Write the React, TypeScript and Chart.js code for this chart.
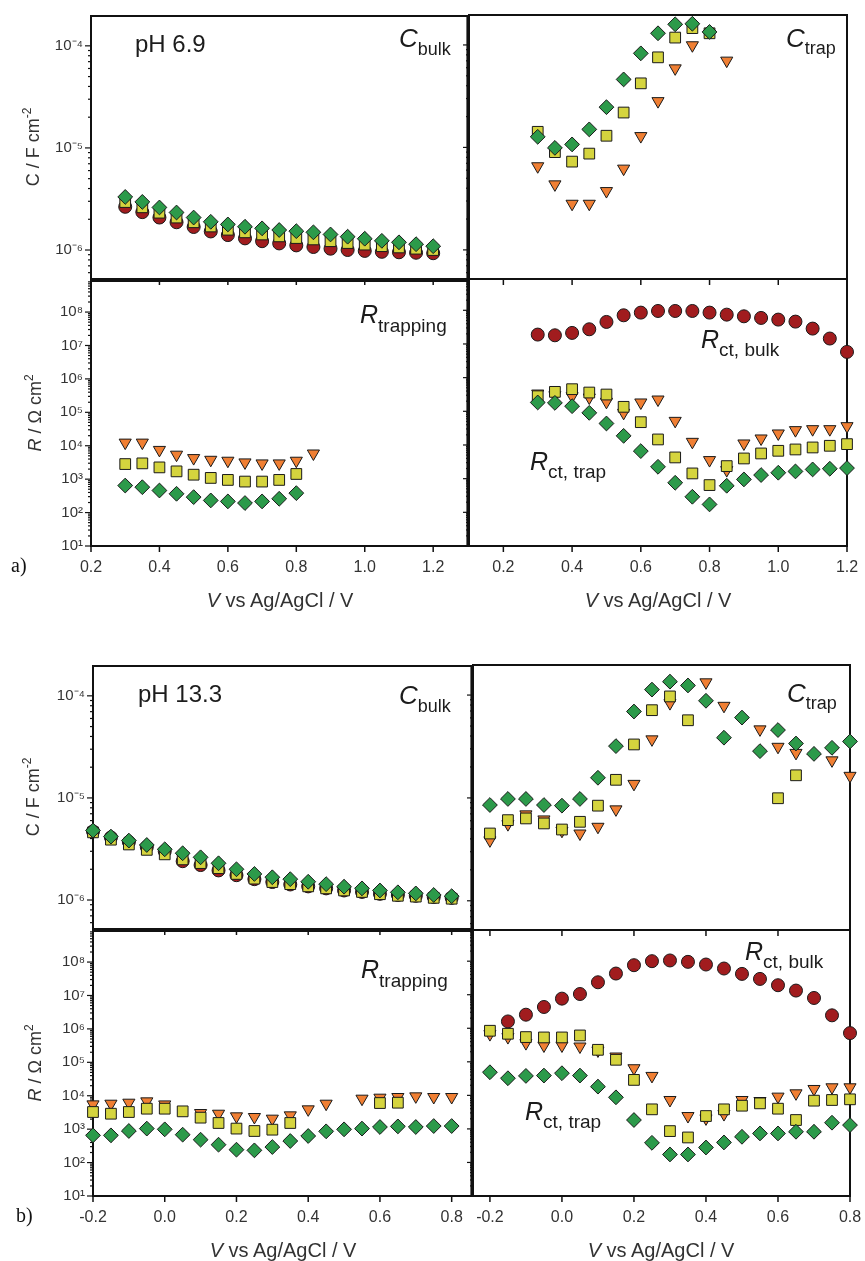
import React, { useEffect, useRef } from 'react';
import { Chart, registerables } from 'chart.js';

Chart.register(...registerables);

// ---------- data ----------
const V_A = [0.3, 0.35, 0.4, 0.45, 0.5, 0.55, 0.6, 0.65, 0.7, 0.75, 0.8, 0.85, 0.9, 0.95, 1.0, 1.05, 1.1, 1.15, 1.2];
const V_B = [-0.2, -0.15, -0.1, -0.05, 0, 0.05, 0.1, 0.15, 0.2, 0.25, 0.3, 0.35, 0.4, 0.45, 0.5, 0.55, 0.6, 0.65, 0.7, 0.75, 0.8];

const X_TICKS_A = [0.2, 0.4, 0.6, 0.8, 1.0, 1.2];
const X_TICKS_B = [-0.2, 0, 0.2, 0.4, 0.6, 0.8];

// (a) pH 6.9 — C bulk
const A_CBULK_CIRCLE = [2.65e-6, 2.35e-6, 2.08e-6, 1.87e-6, 1.68e-6, 1.52e-6, 1.4e-6, 1.3e-6, 1.22e-6, 1.16e-6, 1.11e-6, 1.07e-6, 1.03e-6, 1.0e-6, 9.8e-7, 9.6e-7, 9.5e-7, 9.4e-7, 9.3e-7];
const A_CBULK_SQUARE = [2.95e-6, 2.62e-6, 2.32e-6, 2.08e-6, 1.87e-6, 1.7e-6, 1.58e-6, 1.49e-6, 1.42e-6, 1.36e-6, 1.31e-6, 1.27e-6, 1.22e-6, 1.17e-6, 1.13e-6, 1.09e-6, 1.06e-6, 1.03e-6, 1.0e-6];
const A_CBULK_DIAMOND = [3.31e-6, 2.96e-6, 2.61e-6, 2.33e-6, 2.08e-6, 1.89e-6, 1.78e-6, 1.69e-6, 1.63e-6, 1.57e-6, 1.53e-6, 1.49e-6, 1.42e-6, 1.35e-6, 1.29e-6, 1.23e-6, 1.19e-6, 1.14e-6, 1.09e-6];
// (a) C trap
const A_CTRAP_TRIANGLE = [6.55e-6, 4.36e-6, 2.82e-6, 2.82e-6, 3.75e-6, 6.21e-6, 1.29e-5, 2.83e-5, 5.91e-5, 9.93e-5, null, 7.03e-5, null, null, null, null, null, null, null];
const A_CTRAP_SQUARE = [1.42e-5, 9.0e-6, 7.27e-6, 8.7e-6, 1.3e-5, 2.19e-5, 4.22e-5, 7.57e-5, 1.18e-4, 1.46e-4, 1.3e-4, null, null, null, null, null, null, null, null];
const A_CTRAP_DIAMOND = [1.27e-5, 9.9e-6, 1.07e-5, 1.5e-5, 2.47e-5, 4.61e-5, 8.28e-5, 1.3e-4, 1.59e-4, 1.61e-4, 1.34e-4, null, null, null, null, null, null, null, null];
// (a) R trapping
const A_RTRAP_TRIANGLE = [1.24e4, 1.24e4, 7.5e3, 5.4e3, 4.27e3, 3.8e3, 3.56e3, 3.17e3, 2.96e3, 2.96e3, 3.56e3, 5.86e3, null, null, null, null, null, null, null];
const A_RTRAP_SQUARE = [2.83e3, 2.97e3, 2.25e3, 1.71e3, 1.36e3, 1.09e3, 949, 847, 847, 949, 1.43e3, null, null, null, null, null, null, null, null];
const A_RTRAP_DIAMOND = [644, 575, 458, 365, 290, 231, 216, 193, 216, 259, 382, null, null, null, null, null, null, null, null];
// (a) R ct
const A_RCT_CIRCLE = [1.9e7, 1.81e7, 2.13e7, 2.73e7, 4.51e7, 7.11e7, 8.53e7, 9.55e7, 9.55e7, 9.55e7, 8.53e7, 7.43e7, 6.63e7, 5.93e7, 5.29e7, 4.61e7, 2.86e7, 1.45e7, 5.81e6];
const A_RCT_TRIANGLE = [3.37e5, 3.01e5, 2.81e5, 2.57e5, 1.91e5, 9.0e4, 1.83e5, 2.24e5, 5.21e4, 1.24e4, 3.56e3, 1.8e3, 1.11e4, 1.56e4, 2.2e4, 2.76e4, 2.95e4, 2.95e4, 3.62e4];
const A_RCT_SQUARE = [2.81e5, 3.78e5, 4.54e5, 3.61e5, 3.15e5, 1.36e5, 4.76e4, 1.46e4, 4.27e3, 1.43e3, 644, 2.36e3, 3.98e3, 5.6e3, 6.72e3, 7.36e3, 8.44e3, 9.46e3, 1.06e4];
const A_RCT_DIAMOND = [1.83e5, 1.78e5, 1.42e5, 9.0e4, 4.35e4, 1.87e4, 6.58e3, 2.25e3, 755, 290, 172, 615, 949, 1.28e3, 1.5e3, 1.64e3, 1.88e3, 1.97e3, 2.06e3];

// (b) pH 13.3 — C bulk
const B_CBULK_CIRCLE = [4.7e-6, 4.1e-6, 3.7e-6, 3.3e-6, 3.0e-6, 2.4e-6, 2.2e-6, 1.95e-6, 1.75e-6, 1.6e-6, 1.5e-6, 1.42e-6, 1.36e-6, 1.3e-6, 1.24e-6, 1.2e-6, 1.15e-6, 1.12e-6, 1.1e-6, 1.07e-6, 1.05e-6];
const B_CBULK_SQUARE = [4.6e-6, 3.9e-6, 3.5e-6, 3.1e-6, 2.8e-6, 2.5e-6, 2.3e-6, 2.05e-6, 1.8e-6, 1.62e-6, 1.5e-6, 1.43e-6, 1.36e-6, 1.3e-6, 1.24e-6, 1.2e-6, 1.14e-6, 1.1e-6, 1.08e-6, 1.05e-6, 1.03e-6];
const B_CBULK_DIAMOND = [4.79e-6, 4.18e-6, 3.82e-6, 3.46e-6, 3.14e-6, 2.87e-6, 2.62e-6, 2.29e-6, 2.0e-6, 1.8e-6, 1.67e-6, 1.6e-6, 1.51e-6, 1.43e-6, 1.35e-6, 1.3e-6, 1.24e-6, 1.19e-6, 1.16e-6, 1.12e-6, 1.09e-6];
// (b) C trap
const B_CTRAP_TRIANGLE = [3.87e-6, 5.56e-6, 6.92e-6, 6.18e-6, 4.79e-6, 4.51e-6, 5.24e-6, 7.74e-6, 1.37e-5, 3.71e-5, 8.35e-5, null, 1.33e-4, 7.86e-5, null, 4.64e-5, 3.14e-5, 2.74e-5, null, 2.32e-5, 1.64e-5];
const B_CTRAP_SQUARE = [4.51e-6, 6.08e-6, 6.32e-6, 5.65e-6, 4.93e-6, 5.86e-6, 8.41e-6, 1.5e-5, 3.31e-5, 7.13e-5, 9.7e-5, 5.69e-5, null, null, null, null, 9.93e-6, 1.66e-5, null, null, null];
const B_CTRAP_DIAMOND = [8.53e-6, 9.77e-6, 9.77e-6, 8.53e-6, 8.41e-6, 9.77e-6, 1.57e-5, 3.19e-5, 6.92e-5, 1.13e-4, 1.35e-4, 1.24e-4, 8.8e-5, 3.85e-5, 6.04e-5, 2.85e-5, 4.57e-5, 3.38e-5, 2.68e-5, 3.07e-5, 3.54e-5];
// (b) R trapping
const B_RTRAP_TRIANGLE = [5.52e3, 5.78e3, 6.19e3, 6.79e3, 5.5e3, null, 3.04e3, 2.9e3, 2.42e3, 2.31e3, 2.06e3, 2.59e3, 3.92e3, 5.78e3, null, 8.17e3, 8.75e3, 9.16e3, 9.59e3, 9.16e3, 9.16e3];
const B_RTRAP_SQUARE = [3.26e3, 2.9e3, 3.26e3, 4.1e3, 4.1e3, 3.41e3, 2.21e3, 1.53e3, 1.04e3, 881, 966, 1.53e3, null, null, null, null, 6.05e3, 6.19e3, null, null, null];
const B_RTRAP_DIAMOND = [653, 653, 881, 1.04e3, 988, 684, 484, 343, 243, 232, 292, 442, 624, 861, 988, 1.04e3, 1.16e3, 1.21e3, 1.16e3, 1.24e3, 1.24e3];
// (b) R ct
const B_RCT_CIRCLE = [null, 1.6e6, 2.54e6, 4.31e6, 7.65e6, 1.05e7, 2.35e7, 4.28e7, 7.59e7, 1.0e8, 1.05e8, 9.55e7, 7.95e7, 6.04e7, 4.18e7, 2.96e7, 1.92e7, 1.33e7, 8.0e6, 2.43e6, 7.18e5];
const B_RCT_TRIANGLE = [6.7e5, 5.46e5, 3.61e5, 3.07e5, 3.07e5, 2.86e5, 2.18e5, 1.44e5, 6.44e4, 3.8e4, 7.28e3, 2.42e3, 2.06e3, 2.77e3, 7.28e3, 6.79e3, 9.16e3, 1.15e4, 1.55e4, 1.74e4, 1.74e4];
const B_RCT_SQUARE = [8.43e5, 6.86e5, 5.46e5, 5.33e5, 5.33e5, 6.11e5, 2.28e5, 1.15e5, 2.89e4, 3.83e3, 861, 556, 2.42e3, 3.83e3, 4.92e3, 5.78e3, 4.01e3, 1.84e3, 6.95e3, 7.28e3, 7.62e3];
const B_RCT_DIAMOND = [4.89e4, 3.24e4, 3.8e4, 3.89e4, 4.57e4, 3.89e4, 1.82e4, 8.75e3, 1.84e3, 385, 173, 173, 279, 395, 582, 733, 733, 822, 822, 1.53e3, 1.3e3];

// ---------- styling ----------
const SANS = '"Liberation Sans", Arial, Helvetica, sans-serif';
const SERIF = '"Liberation Serif", "Times New Roman", serif';
const TEXT = '#1c1c1c';
const TICK_TEXT = '#333333';

type MarkKey = 'circle' | 'square' | 'triangle' | 'diamond';
const MARKS: Record<MarkKey, { style: string; radius: number; rotation: number; color: string }> = {
  circle: { style: 'circle', radius: 6.5, rotation: 0, color: '#A11C1E' },
  square: { style: 'rect', radius: 7.6, rotation: 0, color: '#D5D43E' },
  triangle: { style: 'triangle', radius: 7, rotation: 180, color: '#F07F33' },
  diamond: { style: 'rectRot', radius: 7.4, rotation: 0, color: '#2C9A4A' },
};
// draw order: later in this list = further back
const DRAW_ORDER: MarkKey[] = ['diamond', 'square', 'triangle', 'circle'];

type Series = { mark: MarkKey; xs: number[]; ys: (number | null)[] };
type Box = { l: number; t: number; w: number; h: number };
type Area = { l: number; t: number; r: number; b: number };
type PanelSpec = {
  box: Box;
  area: Area;
  xRange: [number, number];
  xTicks: number[];
  xLabels: boolean;
  yRange: [number, number];
  yLabels: boolean;
  series: Series[];
};

const SUP: Record<string, string> = { '-': '⁻', '0': '⁰', '1': '¹', '2': '²', '3': '³', '4': '⁴', '5': '⁵', '6': '⁶', '7': '⁷', '8': '⁸', '9': '⁹' };
const supStr = (n: number) => String(n).split('').map((c) => SUP[c]).join('');
const isDecade = (v: number) => {
  const e = Math.log10(v);
  return Math.abs(e - Math.round(e)) < 1e-6;
};

function logTicks(min: number, max: number) {
  const out: { value: number; major: boolean }[] = [];
  const e0 = Math.floor(Math.log10(min));
  const e1 = Math.ceil(Math.log10(max));
  for (let e = e0; e <= e1; e++) {
    for (let m = 1; m <= 9; m++) {
      const v = Number((m * Math.pow(10, e)).toPrecision(6));
      if (v >= min * 0.9999 && v <= max * 1.0001) out.push({ value: v, major: m === 1 });
    }
  }
  return out;
}

const framePlugin = {
  id: 'panelFrame',
  beforeDatasetsDraw(chart: any) {
    const { ctx, chartArea: a, scales } = chart;
    const xs = scales.x;
    const ys = scales.y;
    ctx.save();
    ctx.strokeStyle = '#111';
    ctx.lineWidth = 2;
    ctx.strokeRect(a.left, a.top, a.right - a.left, a.bottom - a.top);
    ctx.lineWidth = 1.2;
    for (const t of ys.ticks) {
      const py = ys.getPixelForValue(t.value);
      if (py < a.top - 0.5 || py > a.bottom + 0.5) continue;
      const len = isDecade(t.value) ? 6 : 3;
      ctx.beginPath();
      ctx.moveTo(a.left - len, py);
      ctx.lineTo(a.left, py);
      ctx.stroke();
    }
    ctx.lineWidth = 1.5;
    for (const t of xs.ticks) {
      const px = xs.getPixelForValue(t.value);
      ctx.beginPath();
      ctx.moveTo(px, a.bottom);
      ctx.lineTo(px, a.bottom + 6);
      ctx.stroke();
    }
    ctx.restore();
  },
};

function Panel({ spec }: { spec: PanelSpec }) {
  const ref = useRef<HTMLCanvasElement>(null);
  useEffect(() => {
    const cv = ref.current;
    if (!cv) return;
    const { box, area } = spec;
    const yW = area.l - box.l;
    const xH = box.t + box.h - area.b;
    const padTop = area.t - box.t;
    const padRight = box.l + box.w - area.r;
    const sorted = [...spec.series].sort((p, q) => DRAW_ORDER.indexOf(p.mark) - DRAW_ORDER.indexOf(q.mark));
    const datasets = sorted.map((s) => {
      const m = MARKS[s.mark];
      const data = s.xs
        .map((x, i) => ({ x, y: s.ys[i] }))
        .filter((p) => p.y !== null && p.y !== undefined);
      return {
        data,
        showLine: false,
        clip: false as any,
        pointStyle: m.style as any,
        pointRadius: m.radius,
        pointHoverRadius: m.radius,
        pointRotation: m.rotation,
        backgroundColor: m.color,
        pointBackgroundColor: m.color,
        borderColor: '#1a1a1a',
        pointBorderColor: '#1a1a1a',
        pointBorderWidth: 1,
      };
    });
    const chart = new Chart(cv, {
      type: 'scatter',
      data: { datasets },
      options: {
        responsive: false,
        animation: false,
        devicePixelRatio: 1,
        layout: { padding: { left: 0, top: padTop, right: padRight, bottom: 0 } },
        plugins: { legend: { display: false }, tooltip: { enabled: false } },
        scales: {
          x: {
            type: 'linear',
            position: 'bottom',
            min: spec.xRange[0],
            max: spec.xRange[1],
            afterBuildTicks: (s: any) => {
              s.ticks = spec.xTicks.map((v) => ({ value: v }));
            },
            afterFit: (s: any) => {
              s.height = xH;
            },
            grid: { display: false, drawTicks: true, tickLength: 8 },
            border: { display: false },
            ticks: {
              display: spec.xLabels,
              autoSkip: false,
              maxRotation: 0,
              minRotation: 0,
              padding: 4,
              color: TICK_TEXT,
              font: { family: SANS, size: 16 },
              callback: (v: any) => Number(v).toFixed(1),
            },
          },
          y: {
            type: 'logarithmic',
            position: 'left',
            min: spec.yRange[0],
            max: spec.yRange[1],
            afterBuildTicks: (s: any) => {
              s.ticks = logTicks(spec.yRange[0], spec.yRange[1]);
            },
            afterFit: (s: any) => {
              s.width = yW;
            },
            grid: { display: false, drawTicks: true, tickLength: 6 },
            border: { display: false },
            ticks: {
              display: spec.yLabels,
              autoSkip: false,
              padding: 2,
              color: TICK_TEXT,
              font: { family: SANS, size: 15 },
              callback: (v: any) => {
                const n = Number(v);
                if (!isDecade(n)) return '';
                return '10' + supStr(Math.round(Math.log10(n)));
              },
            },
          },
        },
      } as any,
      plugins: [framePlugin],
    });
    return () => chart.destroy();
  }, [spec]);
  return (
    <canvas
      ref={ref}
      width={spec.box.w}
      height={spec.box.h}
      style={{ position: 'absolute', left: spec.box.l, top: spec.box.t, width: spec.box.w, height: spec.box.h }}
    />
  );
}

const C_RANGE: [number, number] = [5.2e-7, 1.96e-4];
const R_RANGE: [number, number] = [10, 8.5e8];

const ser = (mark: MarkKey, xs: number[], ys: (number | null)[]): Series => ({ mark, xs, ys });

const PANELS: PanelSpec[] = [
  // (a) top-left: C bulk
  {
    box: { l: 0, t: 5, w: 476, h: 285 },
    area: { l: 91, t: 15, r: 469, b: 279 },
    xRange: [0.2, 1.3], xTicks: X_TICKS_A, xLabels: false,
    yRange: C_RANGE, yLabels: true,
    series: [ser('circle', V_A, A_CBULK_CIRCLE), ser('square', V_A, A_CBULK_SQUARE), ser('diamond', V_A, A_CBULK_DIAMOND)],
  },
  // (a) top-right: C trap
  {
    box: { l: 455, t: 5, w: 430, h: 285 },
    area: { l: 469, t: 15, r: 847, b: 279 },
    xRange: [0.1, 1.2], xTicks: X_TICKS_A, xLabels: false,
    yRange: C_RANGE, yLabels: false,
    series: [ser('triangle', V_A, A_CTRAP_TRIANGLE), ser('square', V_A, A_CTRAP_SQUARE), ser('diamond', V_A, A_CTRAP_DIAMOND)],
  },
  // (a) bottom-left: R trapping
  {
    box: { l: 0, t: 270, w: 476, h: 316 },
    area: { l: 91, t: 279, r: 469, b: 546 },
    xRange: [0.2, 1.3], xTicks: X_TICKS_A, xLabels: true,
    yRange: R_RANGE, yLabels: true,
    series: [ser('triangle', V_A, A_RTRAP_TRIANGLE), ser('square', V_A, A_RTRAP_SQUARE), ser('diamond', V_A, A_RTRAP_DIAMOND)],
  },
  // (a) bottom-right: R ct
  {
    box: { l: 455, t: 270, w: 430, h: 316 },
    area: { l: 469, t: 279, r: 847, b: 546 },
    xRange: [0.1, 1.2], xTicks: X_TICKS_A, xLabels: true,
    yRange: R_RANGE, yLabels: false,
    series: [ser('circle', V_A, A_RCT_CIRCLE), ser('triangle', V_A, A_RCT_TRIANGLE), ser('square', V_A, A_RCT_SQUARE), ser('diamond', V_A, A_RCT_DIAMOND)],
  },
  // (b) top-left: C bulk
  {
    box: { l: 0, t: 655, w: 480, h: 285 },
    area: { l: 93, t: 665, r: 473, b: 930 },
    xRange: [-0.2, 0.855], xTicks: X_TICKS_B, xLabels: false,
    yRange: C_RANGE, yLabels: true,
    series: [ser('circle', V_B, B_CBULK_CIRCLE), ser('square', V_B, B_CBULK_SQUARE), ser('diamond', V_B, B_CBULK_DIAMOND)],
  },
  // (b) top-right: C trap
  {
    box: { l: 459, t: 655, w: 426, h: 285 },
    area: { l: 473, t: 665, r: 850, b: 930 },
    xRange: [-0.247, 0.8], xTicks: X_TICKS_B, xLabels: false,
    yRange: C_RANGE, yLabels: false,
    series: [ser('triangle', V_B, B_CTRAP_TRIANGLE), ser('square', V_B, B_CTRAP_SQUARE), ser('diamond', V_B, B_CTRAP_DIAMOND)],
  },
  // (b) bottom-left: R trapping
  {
    box: { l: 0, t: 920, w: 480, h: 316 },
    area: { l: 93, t: 930, r: 473, b: 1196 },
    xRange: [-0.2, 0.855], xTicks: X_TICKS_B, xLabels: true,
    yRange: R_RANGE, yLabels: true,
    series: [ser('triangle', V_B, B_RTRAP_TRIANGLE), ser('square', V_B, B_RTRAP_SQUARE), ser('diamond', V_B, B_RTRAP_DIAMOND)],
  },
  // (b) bottom-right: R ct
  {
    box: { l: 459, t: 920, w: 426, h: 316 },
    area: { l: 473, t: 930, r: 850, b: 1196 },
    xRange: [-0.247, 0.8], xTicks: X_TICKS_B, xLabels: true,
    yRange: R_RANGE, yLabels: false,
    series: [ser('circle', V_B, B_RCT_CIRCLE), ser('triangle', V_B, B_RCT_TRIANGLE), ser('square', V_B, B_RCT_SQUARE), ser('diamond', V_B, B_RCT_DIAMOND)],
  },
];

// ---------- text overlays ----------
const abs = (left: number, top: number, extra: React.CSSProperties = {}): React.CSSProperties => ({
  position: 'absolute',
  left,
  top,
  lineHeight: 1,
  whiteSpace: 'nowrap',
  fontFamily: SANS,
  color: TEXT,
  ...extra,
});

function Sym({ left, top, main, sub, mainSize, subSize, drop, italic = true }: { left: number; top: number; main: string; sub: string; mainSize: number; subSize: number; drop: number; italic?: boolean }) {
  return (
    <div style={abs(left, top, { fontSize: mainSize })}>
      <span style={{ fontStyle: italic ? 'italic' : 'normal' }}>{main}</span>
      <span style={{ fontSize: subSize, verticalAlign: -drop }}>{sub}</span>
    </div>
  );
}

function YTitle({ cx, cy, kind }: { cx: number; cy: number; kind: 'C' | 'R' }) {
  return (
    <div
      style={abs(cx, cy, {
        fontSize: 18,
        color: TICK_TEXT,
        transform: 'translate(-50%, -50%) rotate(-90deg)',
      })}
    >
      {kind === 'C' ? (
        <span>
          C / F cm<span style={{ fontSize: 12, verticalAlign: 8 }}>-2</span>
        </span>
      ) : (
        <span>
          <i>R</i> / Ω cm<span style={{ fontSize: 12, verticalAlign: 8 }}>2</span>
        </span>
      )}
    </div>
  );
}

function XTitle({ cx, cy }: { cx: number; cy: number }) {
  return (
    <div style={abs(cx, cy, { fontSize: 20, color: TICK_TEXT, transform: 'translate(-50%, -50%)' })}>
      <i>V</i> vs Ag/AgCl / V
    </div>
  );
}

export default function App() {
  return (
    <div
      style={{
        position: 'absolute',
        left: 0,
        top: 0,
        width: 865,
        height: 1261,
        overflow: 'hidden',
        background: '#ffffff',
      }}
    >
      {PANELS.map((p, i) => (
        <Panel key={i} spec={p} />
      ))}

      {/* (a) */}
      <div style={abs(135, 32, { fontSize: 24 })}>pH 6.9</div>
      <Sym left={399} top={25} main="C" sub="bulk" mainSize={26} subSize={18} drop={8} />
      <Sym left={786} top={25} main="C" sub="trap" mainSize={26} subSize={18} drop={7} />
      <Sym left={360} top={302} main="R" sub="trapping" mainSize={25} subSize={19} drop={9} />
      <Sym left={701} top={327} main="R" sub="ct, bulk" mainSize={25} subSize={19} drop={8} />
      <Sym left={530} top={449} main="R" sub="ct, trap" mainSize={25} subSize={19} drop={8} />
      <YTitle cx={31} cy={147} kind="C" />
      <YTitle cx={33} cy={413} kind="R" />
      <XTitle cx={280} cy={600} />
      <XTitle cx={658} cy={600} />
      <div style={abs(11, 555, { fontSize: 20, fontFamily: SERIF, color: '#111' })}>a)</div>

      {/* (b) */}
      <div style={abs(138, 682, { fontSize: 24 })}>pH 13.3</div>
      <Sym left={399} top={682} main="C" sub="bulk" mainSize={26} subSize={18} drop={8} />
      <Sym left={787} top={680} main="C" sub="trap" mainSize={26} subSize={18} drop={7} />
      <Sym left={361} top={957} main="R" sub="trapping" mainSize={25} subSize={19} drop={9} />
      <Sym left={745} top={939} main="R" sub="ct, bulk" mainSize={25} subSize={19} drop={8} />
      <Sym left={525} top={1099} main="R" sub="ct, trap" mainSize={25} subSize={19} drop={8} />
      <YTitle cx={31} cy={797} kind="C" />
      <YTitle cx={33} cy={1063} kind="R" />
      <XTitle cx={283} cy={1250} />
      <XTitle cx={661} cy={1250} />
      <div style={abs(16, 1205, { fontSize: 20, fontFamily: SERIF, color: '#111' })}>b)</div>
    </div>
  );
}
